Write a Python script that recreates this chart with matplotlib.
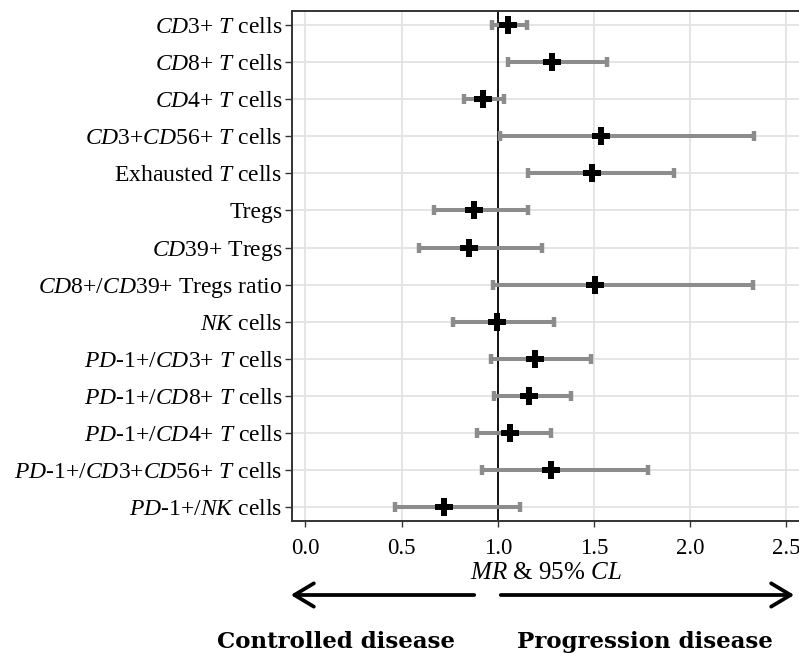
import matplotlib
matplotlib.use("Agg")
import matplotlib.pyplot as plt
from matplotlib.patches import FancyArrowPatch
import numpy as np

# ---- data ----
labels = [
    r"$\mathit{CD}$3+ $\mathit{T}$ cells",
    r"$\mathit{CD}$8+ $\mathit{T}$ cells",
    r"$\mathit{CD}$4+ $\mathit{T}$ cells",
    r"$\mathit{CD}$3+$\mathit{CD}$56+ $\mathit{T}$ cells",
    r"Exhausted $\mathit{T}$ cells",
    "Tregs",
    r"$\mathit{CD}$39+ Tregs",
    r"$\mathit{CD}$8+/$\mathit{CD39}$+ Tregs ratio",
    r"$\mathit{NK}$ cells",
    r"$\mathit{PD}$-1+/$\mathit{CD}$3+ $\mathit{T}$ cells",
    r"$\mathit{PD}$-1+/$\mathit{CD}$8+ $\mathit{T}$ cells",
    r"$\mathit{PD}$-1+/$\mathit{CD}$4+ $\mathit{T}$ cells",
    r"$\mathit{PD}$-1+/$\mathit{CD}$3+$\mathit{CD}$56+ $\mathit{T}$ cells",
    r"$\mathit{PD}$-1+/$\mathit{NK}$ cells",
]
mr = [1.054, 1.283, 0.922, 1.538, 1.491, 0.876, 0.851, 1.507, 0.995,
      1.196, 1.165, 1.064, 1.279, 0.721]
cl_low = [0.971, 1.054, 0.825, 1.012, 1.158, 0.666, 0.593, 0.976, 0.766,
          0.967, 0.980, 0.891, 0.919, 0.468]
cl_high = [1.151, 1.567, 1.033, 2.334, 1.919, 1.158, 1.229, 2.328, 1.293,
           1.484, 1.383, 1.278, 1.782, 1.117]
x_ticks = [0.0, 0.5, 1.0, 1.5, 2.0, 2.5]

plt.rcParams["font.family"] = ["Liberation Serif", "DejaVu Serif"]
plt.rcParams["mathtext.fontset"] = "custom"
plt.rcParams["mathtext.rm"] = "Liberation Serif"
plt.rcParams["mathtext.it"] = "Liberation Serif:italic"

fig = plt.figure(figsize=(7.99, 6.53), dpi=100)
ax = fig.add_axes([0.3655, 0.2021, 0.6345, 0.7810])

y = np.arange(1, len(labels) + 1)
mr = np.array(mr)
lo = mr - np.array(cl_low)
hi = np.array(cl_high) - mr

ax.axvline(1.0, color="black", lw=1.3, zorder=2)
ax.errorbar(mr, y, xerr=[lo, hi], fmt="none", ecolor="#8c8c8c",
            elinewidth=2.9, capsize=3.3, capthick=3.2, zorder=3)
ax.plot(mr, y, linestyle="none", marker="P", markersize=13,
        color="black", markeredgewidth=0, zorder=4)

ax.set_xlim(-0.07, 2.567)
ax.set_ylim(len(labels) + 0.38, 0.62)
ax.set_yticks(y)
ax.set_yticklabels(labels, fontsize=17)
ax.set_xticks(x_ticks)
ax.set_xticklabels([f"{t:.1f}" for t in x_ticks], fontsize=16.5)
ax.set_xlabel(r"$\mathit{MR}$ & 95% $\mathit{CL}$", fontsize=18, labelpad=2)

ax.grid(True, color="#e3e3e3", lw=1.3, zorder=0)
ax.set_axisbelow(True)
ax.tick_params(axis="y", length=5, width=1, color="#333333", pad=2)
ax.tick_params(axis="x", length=4.5, width=1, color="#333333", pad=8)
for side in ["left", "bottom", "top"]:
    ax.spines[side].set_color("#333333")
    ax.spines[side].set_linewidth(1.4)
ax.spines["right"].set_visible(False)

# direction arrows below the axis
arr = dict(arrowstyle="->,head_length=1.0,head_width=0.6", lw=2.7, color="black")
ax_y = 1 - 595 / 653
fig.add_artist(FancyArrowPatch((477 / 799, ax_y), (288 / 799, ax_y),
                               transform=fig.transFigure, mutation_scale=14, **arr))
fig.add_artist(FancyArrowPatch((498 / 799, ax_y), (797 / 799, ax_y),
                               transform=fig.transFigure, mutation_scale=14, **arr))

bold = dict(ha="center", va="baseline", fontsize=16.5, fontweight="bold",
            family="DejaVu Serif")
fig.text(336 / 799, 1 - 648 / 653, "Controlled disease", **bold)
fig.text(645 / 799, 1 - 648 / 653, "Progression disease", **bold)

fig.savefig("out.png", dpi=100)
